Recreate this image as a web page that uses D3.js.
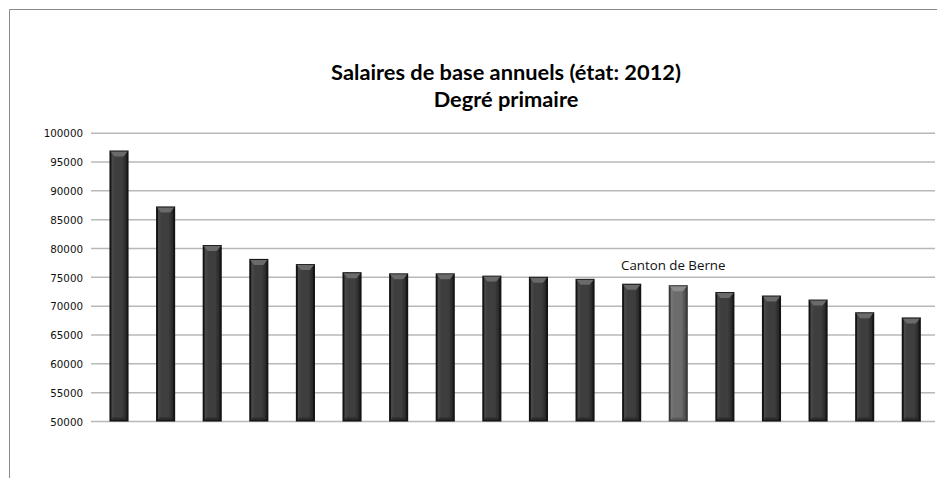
<!DOCTYPE html>
<html>
<head>
<meta charset="utf-8">
<script src="https://cdn.jsdelivr.net/npm/d3@7/dist/d3.min.js"></script>
<style>
  html, body { margin: 0; padding: 0; background: #fff; }
  svg { display: block; }
</style>
</head>
<body>
<svg id="chart" width="937" height="478"></svg>
<script>
// Annual base salaries, primary level, 2012 (CHF), sorted high to low
const cantons = ["K01","K02","K03","K04","K05","K06","K07","K08","K09","K10","K11","K12","BE","K14","K15","K16","K17","K18"];
const salaries = [97000, 87300, 80600, 78200, 77300, 75900, 75700, 75700, 75300, 75100, 74750, 73900, 73650, 72450, 71850, 71150, 68950, 68050];
const highlight = "BE";
const highlightLabel = "Canton de Berne";
const yTicks = [50000, 55000, 60000, 65000, 70000, 75000, 80000, 85000, 90000, 95000, 100000];
const titleLines = ["Salaires de base annuels (état: 2012)", "Degré primaire"];

const data = cantons.map((c, i) => ({ canton: c, value: salaries[i] }));

const svg = d3.select("#chart");

// chart frame (top and left edges)
svg.append("path")
  .attr("d", "M9.5,478 L9.5,9.5 L937,9.5")
  .attr("fill", "none")
  .attr("stroke", "#8a8a8a")
  .attr("stroke-width", 1);

const y = d3.scaleLinear().domain([50000, 100000]).range([421.5, 133.2]);
const pad = 0.59;
const x = d3.scaleBand().domain(cantons).range([95.7, 934.6]).paddingInner(pad).paddingOuter(pad / 2);

// gridlines
svg.append("g").selectAll("line").data(yTicks).join("line")
  .attr("x1", 91).attr("x2", 935)
  .attr("y1", d => y(d)).attr("y2", d => y(d))
  .attr("stroke", "#b8b8b8").attr("stroke-width", 1.5);

// y axis labels
const yAxis = d3.axisLeft(y).tickValues(yTicks).tickSize(0).tickPadding(0).tickFormat(d3.format("d"));
const gy = svg.append("g").attr("transform", "translate(83,0)").call(yAxis);
gy.select(".domain").remove();
gy.selectAll("text")
  .attr("font-family", "DejaVu Sans, Verdana, sans-serif")
  .attr("font-size", 10.3)
  .attr("fill", "#111")
  .attr("dy", "0.36em");

// bevel gradients
const defs = svg.append("defs");
function bodyGradient(id, light, mid, dark) {
  const g = defs.append("linearGradient").attr("id", id).attr("x1", 0).attr("x2", 1).attr("y1", 0).attr("y2", 0);
  g.append("stop").attr("offset", "0%").attr("stop-color", light);
  g.append("stop").attr("offset", "25%").attr("stop-color", mid);
  g.append("stop").attr("offset", "70%").attr("stop-color", mid);
  g.append("stop").attr("offset", "100%").attr("stop-color", dark);
}
bodyGradient("barBody", "#4c4c4c", "#3e3e3e", "#262626");
bodyGradient("barBodyHi", "#7a7a7a", "#6c6c6c", "#4a4a4a");

const bars = svg.append("g").selectAll("g").data(data).join("g");
const bw = x.bandwidth();

bars.append("rect")
  .attr("x", d => x(d.canton))
  .attr("y", d => y(d.value))
  .attr("width", bw)
  .attr("height", d => y(50000) - y(d.value))
  .attr("fill", d => d.canton === highlight ? "#3a3a3a" : "#141414");

bars.append("rect")
  .attr("x", d => x(d.canton) + 2)
  .attr("y", d => y(d.value) + 2)
  .attr("width", bw - 4)
  .attr("height", d => y(50000) - y(d.value) - 4)
  .attr("fill", d => d.canton === highlight ? "url(#barBodyHi)" : "url(#barBody)");

// top chamfer
bars.append("path")
  .attr("d", d => {
    const x0 = x(d.canton) + 1, x1 = x(d.canton) + bw - 1, t = y(d.value) + 1;
    return `M${x0},${t} L${x1},${t} L${x1 - 4},${t + 5} L${x0 + 4},${t + 5} Z`;
  })
  .attr("fill", d => d.canton === highlight ? "#8c8c8c" : "#6a6a6a");

// bottom shade
bars.append("rect")
  .attr("x", d => x(d.canton) + 3)
  .attr("y", y(50000) - 4)
  .attr("width", bw - 6)
  .attr("height", 2)
  .attr("fill", d => d.canton === highlight ? "#5a5a5a" : "#2c2c2c");

// highlighted canton label
const hd = data.find(d => d.canton === highlight);
svg.append("text")
  .attr("x", x(hd.canton) + bw / 2 - 5)
  .attr("y", y(hd.value) - 15)
  .attr("text-anchor", "middle")
  .attr("font-family", "Open Sans, sans-serif")
  .attr("font-size", 13.3)
  .attr("fill", "#111")
  .text(highlightLabel);

// title
svg.append("g").selectAll("text").data(titleLines).join("text")
  .attr("x", 506)
  .attr("y", (d, i) => 80 + i * 27)
  .attr("text-anchor", "middle")
  .attr("font-family", "Lato, sans-serif")
  .attr("font-weight", "bold")
  .attr("font-size", 21.8)
  .attr("fill", "#000")
  .text(d => d);
</script>
</body>
</html>
